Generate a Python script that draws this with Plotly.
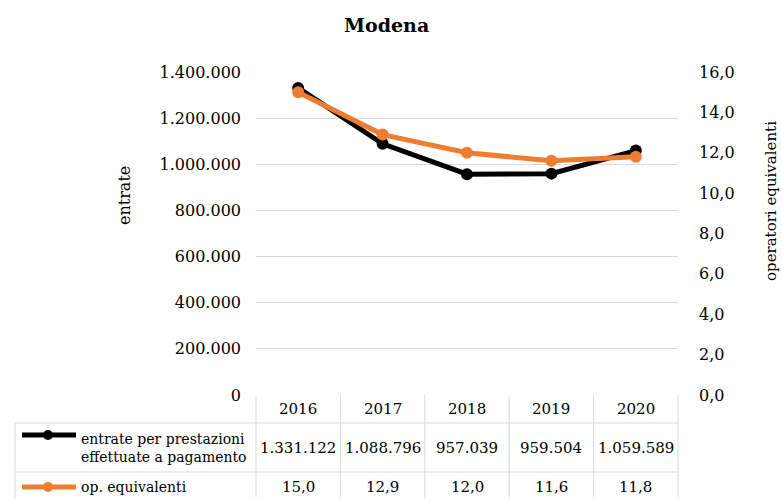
import plotly.graph_objects as go

# Data
anni = ["2016", "2017", "2018", "2019", "2020"]
entrate = [1331122, 1088796, 957039, 959504, 1059589]
operatori = [15.0, 12.9, 12.0, 11.6, 11.8]

serie_entrate = "entrate per prestazioni<br>effettuate a pagamento"
serie_operatori = "op. equivalenti"

NERO = "#000000"
ARANCIO = "#ED7D31"
GRIGLIA = "#D9D9D9"
FONT = "DejaVu Serif"

W, H = 782, 499
ML, MR, MT, MB = 256, 104, 72, 104
PW, PH = W - ML - MR, H - MT - MB


def px(xp):
    """Horizontal page pixel -> paper coordinate."""
    return (xp - ML) / PW


def py(yp):
    """Vertical page pixel -> paper coordinate."""
    return (H - MB - yp) / PH


def fmt_int(v):
    return f"{v:,}".replace(",", ".")


def fmt_dec(v):
    return f"{v:.1f}".replace(".", ",")


fig = go.Figure()
fig.add_trace(go.Scatter(
    x=anni, y=entrate, name="entrate", mode="lines+markers",
    line=dict(color=NERO, width=5), marker=dict(color=NERO, size=12),
    yaxis="y", showlegend=False, cliponaxis=False,
))
fig.add_trace(go.Scatter(
    x=anni, y=operatori, name="op. equivalenti", mode="lines+markers",
    line=dict(color=ARANCIO, width=5), marker=dict(color=ARANCIO, size=12),
    yaxis="y2", showlegend=False, cliponaxis=False,
))

n = len(anni)
shapes = []
annotations = []
line_style = dict(color=GRIGLIA, width=1)

# data table grid below the plot area
row_tops = [py(H - MB), py(423), py(472), py(H - 0.5)]
for k in range(n + 1):
    xk = k / n
    shapes.append(dict(type="line", xref="paper", yref="paper",
                       x0=xk, x1=xk, y0=row_tops[0], y1=row_tops[3],
                       line=line_style))
shapes.append(dict(type="line", xref="paper", yref="paper",
                   x0=px(15), x1=px(15), y0=row_tops[1], y1=row_tops[3],
                   line=line_style))
for r in (1, 2):
    shapes.append(dict(type="line", xref="paper", yref="paper",
                       x0=px(15), x1=1, y0=row_tops[r], y1=row_tops[r],
                       line=line_style))

# legend keys inside the table
for color, yk in ((NERO, 435), (ARANCIO, 487)):
    shapes.append(dict(type="line", xref="paper", yref="paper",
                       x0=px(22), x1=px(76), y0=py(yk), y1=py(yk),
                       line=dict(color=color, width=5)))
    shapes.append(dict(type="circle", xref="paper", yref="paper",
                       x0=px(48 - 5), x1=px(48 + 5), y0=py(yk + 5), y1=py(yk - 5),
                       fillcolor=color, line=dict(color=color, width=0)))

cell_font = dict(family=FONT, size=15, color="#000000")
key_font = dict(family=FONT, size=14, color="#000000")


def cell(text, x, y, xanchor="center", **kw):
    annotations.append(dict(text=text, x=x, y=y, xref="paper", yref="paper",
                            xanchor=xanchor, yanchor="middle", showarrow=False,
                            font=kw.pop("font", cell_font), **kw))


for i, anno in enumerate(anni):
    xc = (i + 0.5) / n
    cell(anno, xc, py(409))
    cell(fmt_int(entrate[i]), xc, py(448))
    cell(fmt_dec(operatori[i]), xc, py(487))

cell(serie_entrate, px(79), py(448), xanchor="left", align="left", font=key_font)
cell(serie_operatori, px(79), py(487), xanchor="left", align="left", font=key_font)

# chart and axis titles
cell("<b>Modena</b>", px(386), py(25), font=dict(family=FONT, size=19, color="#000000"))
cell("entrate", px(124), py(196), textangle=-90,
     font=dict(family=FONT, size=16, color="#000000"))
cell("operatori equivalenti", px(771), py(201), textangle=-90)

fig.update_layout(
    width=W, height=H,
    margin=dict(l=ML, r=MR, t=MT, b=MB, pad=0),
    paper_bgcolor="white", plot_bgcolor="white",
    separators=",.",
    font=dict(family=FONT, size=15, color="#000000"),
    xaxis=dict(type="category", range=[-0.5, n - 0.5], showticklabels=False,
               showgrid=False, zeroline=False, showline=False, ticks=""),
    yaxis=dict(range=[0, 1400000], dtick=200000, tickformat=",d",
               showgrid=True, gridcolor=GRIGLIA, gridwidth=1, zeroline=False,
               showline=False, ticks="", ticklabelstandoff=14,
               tickfont=dict(family=FONT, size=16, color="#000000")),
    yaxis2=dict(range=[0, 16], dtick=2, tickformat=".1f", overlaying="y", side="right",
                showgrid=False, zeroline=False, showline=False, ticks="",
                ticklabelstandoff=20,
                tickfont=dict(family=FONT, size=16, color="#000000")),
    shapes=shapes,
    annotations=annotations,
)

fig.write_html("out.html")
